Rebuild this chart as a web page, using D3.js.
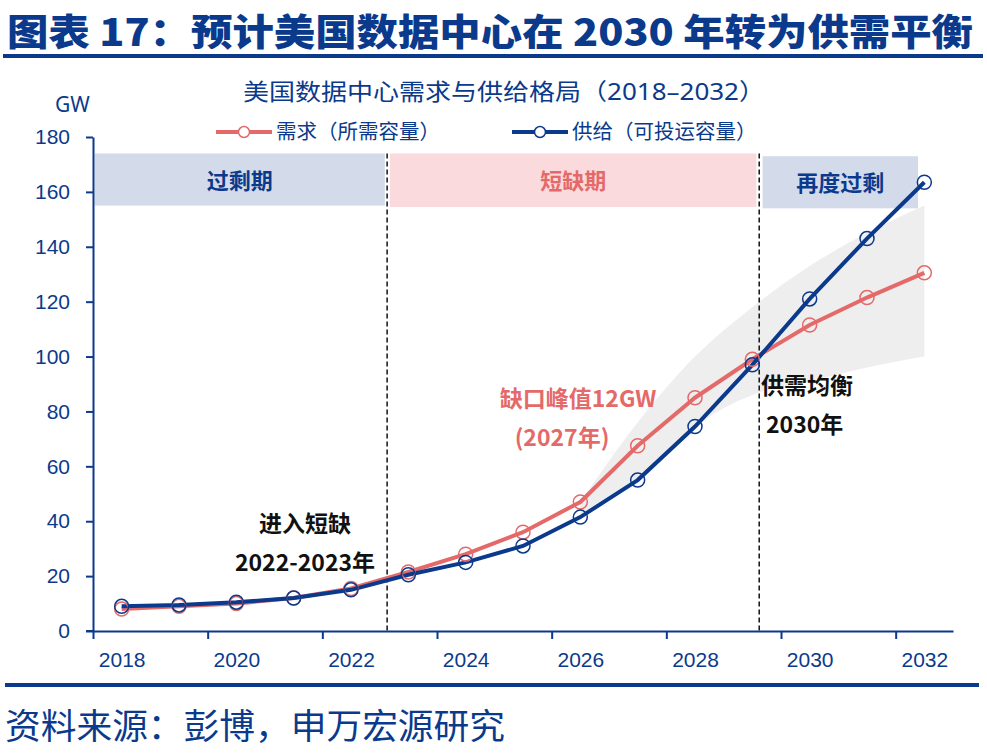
<!DOCTYPE html>
<html>
<head>
<meta charset="utf-8">
<script src="https://cdn.jsdelivr.net/npm/d3@7"></script>
<style>
  body { margin: 0; background: #fff; }
  svg { display: block; font-family: "Noto Sans", "Noto Sans CJK SC", sans-serif; }
</style>
</head>
<body>
<div id="chart"></div>
<script>
// Data
var years = [2018, 2019, 2020, 2021, 2022, 2023, 2024, 2025, 2026, 2027, 2028, 2029, 2030, 2031, 2032];
var demand = [8, 9, 10, 12, 15.5, 21.5, 28, 36, 47, 67.5, 85, 99, 111.5, 121.5, 130.5];
var supply = [9, 9.5, 10.5, 12, 15, 20.5, 25, 31, 41.5, 55, 74.5, 97, 121, 143, 163.5];
// grey uncertainty fan
var fanYears = [2026, 2027, 2028, 2029, 2030, 2031, 2032];
var fanUpper = [47, 76, 100, 118, 133, 145, 155];
var fanLower = [41.5, 55, 74.5, 86, 91, 96, 100];
// phases shown as coloured bands at the top
var phaseNames = ["过剩期", "短缺期", "再度过剩"];
var phaseStart = [2017.53, 2022.68, 2029.18];
var phaseEnd = [2022.59, 2029.07, 2031.89];
var phaseTop = [174, 174, 173];
var phaseBottom = [155, 154.5, 154];
var dividers = [2022.63, 2029.12];
var yTicks = [0, 20, 40, 60, 80, 100, 120, 140, 160, 180];
var xLabels = [2018, 2020, 2022, 2024, 2026, 2028, 2030, 2032];

var svgWidth = 987;
var svgHeight = 753;
var navy = "#0b3a8c";
var red = "#e46a6a";

var svg = d3.select("#chart")
    .append("svg")
    .attr("width", svgWidth)
    .attr("height", svgHeight);

// scales: one category per year, points in the middle
var x = d3.scaleLinear().domain([2017.5, 2032.5]).range([93, 953]);
var y = d3.scaleLinear().domain([0, 180]).range([631, 137]);

// title and rules
svg.append("text")
    .attr("x", 7).attr("y", 46)
    .attr("font-size", 37).attr("font-weight", 900)
    .attr("fill", navy)
    .attr("font-family", "Noto Sans CJK SC")
    .attr("textLength", 966).attr("lengthAdjust", "spacingAndGlyphs")
    .text("图表 17：预计美国数据中心在 2030 年转为供需平衡");
svg.append("rect").attr("x", 3).attr("y", 54).attr("width", 980).attr("height", 4).attr("fill", navy);
svg.append("rect").attr("x", 5).attr("y", 683).attr("width", 974).attr("height", 4).attr("fill", navy);
svg.append("text")
    .attr("x", 5).attr("y", 739)
    .attr("font-size", 35)
    .attr("fill", navy)
    .attr("font-family", "Noto Sans CJK SC")
    .attr("textLength", 500).attr("lengthAdjust", "spacingAndGlyphs")
    .text("资料来源：彭博，申万宏源研究");

// chart title
svg.append("text")
    .attr("x", 504).attr("y", 100)
    .attr("text-anchor", "middle")
    .attr("font-size", 23)
    .attr("fill", navy)
    .attr("textLength", 522).attr("lengthAdjust", "spacingAndGlyphs")
    .text("美国数据中心需求与供给格局（2018–2032）");

// legend
var legend = [
    {name: "需求（所需容量）", color: red, x0: 216},
    {name: "供给（可投运容量）", color: navy, x0: 512}
];
legend.forEach(function (l) {
    svg.append("line")
        .attr("x1", l.x0).attr("x2", l.x0 + 56)
        .attr("y1", 132).attr("y2", 132)
        .attr("stroke", l.color).attr("stroke-width", 4);
    svg.append("circle")
        .attr("cx", l.x0 + 28).attr("cy", 132).attr("r", 5.5)
        .attr("fill", "#fff").attr("stroke", l.color).attr("stroke-width", 1.5);
    svg.append("text")
        .attr("x", l.x0 + 60).attr("y", 139)
        .attr("font-size", 20.5)
        .attr("fill", navy)
        .attr("font-family", "Noto Sans CJK SC")
        .text(l.name);
});

// grey fan
var fanData = fanYears.map(function (yr, i) {
    return {year: yr, lo: fanLower[i], hi: fanUpper[i]};
});
svg.append("path")
    .datum(fanData)
    .attr("fill", "#ececec")
    .attr("opacity", 0.9)
    .attr("d", d3.area()
        .x(d => x(d.year))
        .y0(d => y(d.lo))
        .y1(d => y(d.hi))
        .curve(d3.curveMonotoneX));

// phase bands
var bandColors = ["#d3dbea", "#fadadc", "#d3dbea"];
var bandText = [navy, red, navy];
phaseNames.forEach(function (p, i) {
    svg.append("rect")
        .attr("x", x(phaseStart[i]))
        .attr("y", y(phaseTop[i]))
        .attr("width", x(phaseEnd[i]) - x(phaseStart[i]))
        .attr("height", y(phaseBottom[i]) - y(phaseTop[i]))
        .attr("fill", bandColors[i]);
    svg.append("text")
        .attr("x", (x(phaseStart[i]) + x(phaseEnd[i])) / 2)
        .attr("y", (y(phaseTop[i]) + y(phaseBottom[i])) / 2 + 9)
        .attr("text-anchor", "middle")
        .attr("font-size", 22).attr("font-weight", "bold")
        .attr("font-family", "Noto Sans CJK SC")
        .attr("fill", bandText[i])
        .text(p);
});

// dashed dividers
dividers.forEach(function (d) {
    svg.append("line")
        .attr("x1", x(d)).attr("x2", x(d))
        .attr("y1", y(174)).attr("y2", y(0))
        .attr("stroke", "#111").attr("stroke-width", 1.5)
        .attr("stroke-dasharray", "5,3");
});

// axes
var leftAxis = d3.axisLeft(y).tickValues(yTicks).tickSize(7).tickSizeOuter(0).tickPadding(16);
var gy = svg.append("g").attr("transform", "translate(93,0)").call(leftAxis);
gy.select(".domain").attr("stroke", navy).attr("stroke-width", 2);
gy.selectAll(".tick line").attr("stroke", navy).attr("stroke-width", 2);
gy.selectAll(".tick text").attr("fill", navy).attr("font-size", 21);

var tickPos = d3.range(2017.5, 2032, 2);
var bottomTicks = d3.axisBottom(x).tickValues(tickPos).tickSize(8).tickSizeOuter(0).tickFormat("");
var gx = svg.append("g").attr("transform", "translate(0,631)").call(bottomTicks);
gx.select(".domain").attr("stroke", navy).attr("stroke-width", 2);
gx.selectAll(".tick line").attr("stroke", navy).attr("stroke-width", 2);

var bottomLabels = d3.axisBottom(x).tickValues(xLabels).tickSize(0).tickPadding(21).tickFormat(d3.format("d"));
var gl = svg.append("g").attr("transform", "translate(0,631)").call(bottomLabels);
gl.select(".domain").remove();
gl.selectAll(".tick text").attr("fill", navy).attr("font-size", 21);

svg.append("line")
    .attr("x1", 86).attr("x2", 93).attr("y1", 631).attr("y2", 631)
    .attr("stroke", navy).attr("stroke-width", 2);

svg.append("text")
    .attr("x", 55).attr("y", 112)
    .attr("font-size", 21)
    .attr("fill", navy)
    .text("GW");

// lines
var lineGen = d3.line().x((d, i) => x(years[i])).y(d => y(d));
svg.append("path").datum(demand)
    .attr("fill", "none").attr("stroke", red).attr("stroke-width", 4)
    .attr("d", lineGen);
svg.append("path").datum(supply)
    .attr("fill", "none").attr("stroke", navy).attr("stroke-width", 4)
    .attr("d", lineGen);

// markers
[[demand, red], [supply, navy]].forEach(function (s) {
    svg.append("g").selectAll("circle")
        .data(s[0])
        .enter()
        .append("circle")
        .attr("cx", (d, i) => x(years[i]))
        .attr("cy", d => y(d))
        .attr("r", 7)
        .attr("fill", "none")
        .attr("stroke", s[1])
        .attr("stroke-width", 1.5);
});

// annotations
function note(txt, ax, ay, anchor, color) {
    svg.append("text")
        .attr("x", ax).attr("y", ay)
        .attr("text-anchor", anchor)
        .attr("font-size", 23).attr("font-weight", "bold")
        .attr("font-family", "Noto Sans CJK SC")
        .attr("fill", color)
        .text(txt);
}
note("进入短缺", 305, 532, "middle", "#111");
note("2022-2023年", 305, 571, "middle", "#111");
note("缺口峰值12GW", 578, 407, "middle", red);
note("(2027年)", 562, 446, "middle", red);
note("供需均衡", 761, 394, "start", "#111");
note("2030年", 766, 433, "start", "#111");
</script>
</body>
</html>
